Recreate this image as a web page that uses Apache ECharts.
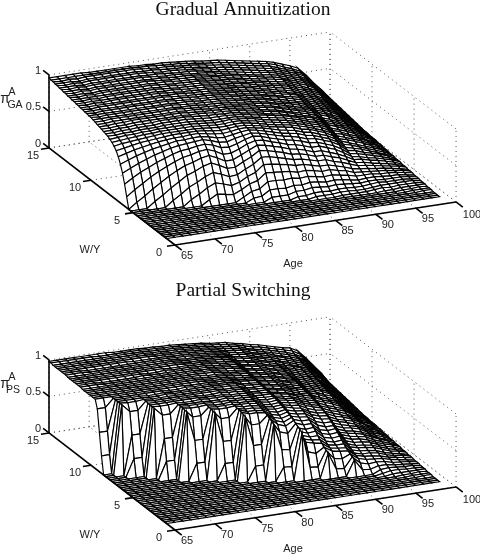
<!DOCTYPE html>
<html>
<head>
<meta charset="utf-8">
<style>html,body{margin:0;padding:0;background:#fff}#chart{width:480px;height:554px}</style>
<script src="https://cdn.jsdelivr.net/npm/echarts@6/dist/echarts.min.js"></script>
</head>
<body>
<div id="chart"></div>
<script>
// grid of the surface
const ages = [65,66,67,68,69,70,71,72,73,74,75,76,77,78,79,80,81,82,83,84,85,86,87,88,89,90,91,92,93,94,95,96,97,98,99];
const wyLevels = [1,1.25,1.5,1.75,2,2.25,2.5,2.75,3,3.25,3.5,3.75,4,4.25,4.5,4.75,5,5.25,5.5,5.75,6,6.25,6.5,6.75,7,7.25,7.5,7.75,8,8.25,8.5,8.75,9,9.25,9.5,9.75,10,10.25,10.5,10.75,11,11.25,11.5,11.75,12,12.25,12.5,12.75,13,13.25,13.5,13.75,14,14.25,14.5,14.75,15];
const ageTicks = [65,70,75,80,85,90,95,100];
const wyTicks = [0,5,10,15];
const zTicks = [0,0.5,1];
const zTickLabels = ["0","0.5","1"];

// percent annuitized per age, listed up to W/Y = 15; rows below a list are 0
const gaColumns = [
[15,30,43,53,61,67,71,74,76,78,79,80,81,82,83,84,85,86,86,87,87,88,88,89,89,90,90,91,91,92,92,93,93,94,94,95,95,96],
[8,23,37,48,57,64,69,73,75,77,78,79,80,81,82,83,84,85,85,86,86,87,87,88,88,89,89,90,90,91,91,92,92,93,93,94,94,95,96],
[15,30,43,53,61,67,71,74,76,78,79,80,81,82,83,84,85,85,86,86,87,87,88,88,89,89,90,90,91,91,92,92,93,93,94,94,95,95,96],
[8,23,37,48,57,64,69,73,75,77,78,79,80,81,82,83,84,85,85,86,86,87,87,88,88,88,89,89,90,90,90,91,91,92,92,93,93,94,95,96],
[15,30,43,53,61,67,71,74,76,78,79,80,81,82,83,84,84,85,85,86,86,87,87,88,88,89,89,90,90,91,91,92,92,93,93,94,94,95,95,96],
[8,23,37,48,57,64,69,73,75,77,78,79,80,81,82,83,84,84,85,85,86,86,87,87,88,88,89,89,90,90,91,91,92,92,93,93,94,94,95,95,95],
[15,30,43,53,61,67,71,74,76,78,79,80,80,81,82,83,84,84,85,85,86,86,87,87,88,88,89,89,90,90,91,91,92,92,93,93,94,94,95,95,95],
[8,23,37,48,57,64,69,73,75,77,78,79,80,81,82,83,83,84,84,85,85,86,86,87,87,88,88,89,89,90,90,91,91,92,92,93,93,94,94,95,95,95],
[14,28,41,51,59,65,70,73,75,77,78,79,80,81,82,83,83,84,84,85,85,86,86,87,87,88,88,89,89,90,90,91,91,92,92,93,93,94,94,95,95,95],
[7,21,34,46,55,62,67,71,74,76,77,78,79,80,81,82,83,83,84,84,85,85,86,86,87,87,88,88,89,89,90,90,91,91,92,92,93,93,94,94,95,95,95],
[13,26,38,49,57,63,68,72,74,76,77,78,79,80,81,82,83,83,84,84,85,85,86,86,87,87,88,88,89,89,90,90,91,91,92,92,93,93,94,94,95,95,95],
[11,23,34,44,52,59,65,69,72,74,76,77,78,79,80,81,82,82,83,83,84,84,85,85,86,86,87,87,88,88,89,89,90,90,91,91,92,92,93,93,94,94,94],
[9,19,29,38,46,53,60,65,69,72,74,76,77,78,79,80,81,82,82,83,83,84,84,85,85,86,86,87,87,88,88,89,89,90,90,91,91,92,92,93,93,94,94],
[6,14,22,30,38,46,53,59,64,68,71,73,75,76,77,78,79,80,81,81,82,82,83,83,84,84,85,85,86,86,87,87,88,88,89,89,90,90,91,91,92,92,93,93],
[5,12,20,28,36,44,51,57,62,67,70,72,74,75,76,77,78,79,80,80,81,81,82,82,83,83,84,84,85,85,86,86,87,87,88,88,89,89,90,90,91,91,92,92,93],
[6,14,23,32,41,49,56,62,66,69,72,74,75,76,77,78,78,79,79,80,80,81,81,82,82,83,83,84,84,85,85,86,86,87,87,88,88,89,89,89,90,90,91,91,92],
[5,13,22,32,41,49,56,61,65,69,71,73,74,75,76,77,77,78,78,79,79,80,80,81,81,82,82,83,83,84,84,85,85,86,86,87,87,88,88,88,89,89,90,90,91,91],
[5,13,22,31,40,48,54,59,64,67,69,71,72,73,74,75,76,76,77,77,78,78,79,79,80,80,81,81,82,82,83,83,84,84,85,85,86,86,87,87,88,88,88,89,89,90],
[5,12,21,30,38,45,51,56,60,63,66,68,70,71,72,73,74,74,75,75,76,76,77,77,78,79,79,80,80,81,81,82,82,83,83,84,84,85,85,86,86,87,87,88,88,89],
[3,8,14,22,29,36,42,48,53,57,60,63,65,67,68,69,70,71,72,73,74,74,75,75,76,76,77,77,78,78,79,79,80,80,81,81,82,82,83,83,84,84,85,85,86,86,87],
[3,8,13,20,26,33,39,44,49,53,57,60,62,64,66,67,68,69,70,71,71,72,72,73,73,74,74,75,75,76,76,77,77,78,78,79,79,80,80,81,81,82,82,83,84,85,86],
[2,5,10,15,21,27,33,38,43,47,51,55,58,60,62,64,65,66,67,68,69,69,70,70,71,71,72,72,73,73,74,74,75,75,76,76,77,77,78,78,79,79,80,81,82,83,84,85],
[2,5,9,14,19,25,30,35,40,44,48,52,55,58,60,62,63,64,65,66,67,67,68,68,69,69,70,70,71,71,72,72,73,73,74,74,75,75,76,76,77,77,78,79,80,81,82,83],
[2,4,8,12,17,22,27,32,36,40,44,48,51,54,56,58,60,61,62,63,64,64,65,65,66,66,67,67,68,68,69,69,70,71,71,72,72,73,73,74,75,75,76,77,78,79,80,81],
[1,3,5,9,13,18,23,27,32,36,40,44,47,50,52,54,56,57,58,59,60,61,61,62,62,63,64,64,65,65,66,67,67,68,68,69,70,70,71,71,72,73,73,74,75,76,77,78,79],
[1,3,5,8,12,16,20,24,28,32,36,40,43,46,48,50,52,53,54,55,56,57,58,58,59,60,60,61,62,62,63,64,64,65,66,66,67,68,68,69,70,70,71,72,73,74,75,76,77],
[1,2,4,7,10,14,18,21,25,29,32,36,39,42,44,46,48,49,51,52,53,54,55,55,56,57,58,58,59,60,60,61,62,63,63,64,65,66,66,67,68,69,70,71,71,72,73,74,75],
[1,2,4,6,8,11,14,17,21,24,27,30,33,36,38,40,42,44,45,47,48,49,50,51,52,53,54,55,55,56,57,58,59,60,60,61,62,63,64,65,66,66,67,68,69,70,71,72,73],
[2,3,5,7,9,11,13,15,17,19,21,23,25,27,29,31,33,34,36,37,39,40,42,43,44,45,47,48,49,50,51,52,53,54,55,56,57,58,59,60,61,62,63,64,65,66,67,69,70],
[1,3,4,6,7,9,11,12,14,16,18,20,21,23,25,26,28,29,31,32,34,35,36,38,39,40,41,43,44,45,46,47,48,49,50,51,52,53,54,55,56,57,58,59,60,61,62,63,64,66],
[1,2,4,5,6,8,9,11,12,14,15,17,18,20,21,23,24,25,27,28,29,30,32,33,34,35,36,37,38,39,41,42,43,44,45,46,47,48,49,50,51,53,54,55,56,57,58,59,60,62],
[1,2,3,4,5,6,7,9,10,11,12,13,15,16,17,18,19,20,21,23,24,25,26,27,28,29,30,31,32,33,34,35,36,37,38,39,40,41,42,44,45,46,47,48,49,50,51,53,54,55,57],
[1,1,2,3,4,5,6,7,8,8,9,10,11,12,13,14,15,15,16,17,18,19,20,20,21,22,23,24,25,25,26,27,28,29,30,31,31,32,33,34,35,36,37,38,39,40,41,42,43,44,45,46],
[1,1,2,2,3,4,4,5,5,6,7,7,8,8,9,10,10,11,11,12,13,13,14,14,15,16,16,17,17,18,19,19,20,20,21,21,22,23,23,24,24,25,26,26,27,28,28,29,30,30,31,32,33],
[0,1,1,1,2,2,2,3,3,3,4,4,4,5,5,5,6,6,6,7,7,7,8,8,8,9,9,9,10,10,10,11,11,11,12,12,13,13,14,14,15,15,16,16,17,17,18,18,19,19,20,20,21,22]
];
const psColumns = [
[24,54,84,95,95,95,95,95,95,95,96,96,96,96,96,96,96,97,97,97,97,97,97,97,98,98],
[24,54,84,95,95,95,95,95,95,95,96,96,96,96,96,96,96,97,97,97,97,97,97,97,98,98],
[95,95,95,95,95,95,95,95,95,95,95,95,96,96,96,96,96,96,96,97,97,97,97,97,97,97,98,98],
[24,54,84,94,95,95,95,95,95,95,95,95,95,95,95,95,96,96,96,96,96,96,96,97,97,97,97,97,98,98],
[24,54,84,94,95,95,95,95,95,95,95,95,95,95,95,95,96,96,96,96,96,96,96,97,97,97,97,97,98,98],
[94,94,94,94,95,95,95,95,95,95,95,95,95,95,95,95,95,95,96,96,96,96,96,96,96,97,97,97,97,97,98,98],
[24,53,83,93,94,94,94,94,94,94,95,95,95,95,95,95,95,95,95,95,96,96,96,96,96,96,96,97,97,97,97,97,97,98],
[24,53,83,93,94,94,94,94,94,94,95,95,95,95,95,95,95,95,95,95,96,96,96,96,96,96,96,97,97,97,97,97,97,98],
[93,93,94,94,94,94,94,94,94,94,95,95,95,95,95,95,95,95,95,95,95,96,96,96,96,96,96,96,96,97,97,97,97,97,97,97],
[23,52,82,92,93,93,93,94,94,94,94,94,94,94,95,95,95,95,95,95,95,95,95,95,96,96,96,96,96,96,96,97,97,97,97,97,97],
[23,52,82,92,93,93,93,94,94,94,94,94,94,94,95,95,95,95,95,95,95,95,95,95,96,96,96,96,96,96,96,97,97,97,97,97,97],
[91,91,92,92,93,93,93,94,94,94,94,94,94,94,95,95,95,95,95,95,95,95,95,95,96,96,96,96,96,96,96,96,97,97,97,97,97,97],
[22,50,79,90,91,91,92,92,93,93,93,94,94,94,94,94,94,95,95,95,95,95,95,95,95,95,95,96,96,96,96,96,96,96,96,96,96,96,96],
[22,50,79,90,91,91,92,92,93,93,93,94,94,94,94,94,94,95,95,95,95,95,95,95,95,95,95,96,96,96,96,96,96,96,96,96,96,96,96],
[87,88,89,90,90,91,91,92,92,93,93,93,94,94,94,94,94,94,94,94,94,94,95,95,95,95,95,95,95,95,95,95,95,95,95,95,95,95,95,95,95],
[20,46,72,85,86,87,88,89,89,90,90,91,91,92,92,92,93,93,93,93,93,93,93,93,94,94,94,94,94,94,94,94,94,94,95,95,95,95,95,95,95,95],
[20,46,72,85,86,87,88,89,89,90,90,91,91,92,92,92,93,93,93,93,93,93,93,93,94,94,94,94,94,94,94,94,94,94,94,94,94,94,94,94,94,94],
[76,78,80,82,83,84,85,86,87,88,88,89,89,90,90,91,91,91,92,92,92,92,92,92,92,92,92,92,92,92,93,93,93,93,93,93,93,93,93,93,93,93,93],
[18,40,62,70,73,75,77,79,80,81,82,83,84,85,85,86,86,87,87,88,88,89,89,89,90,90,90,90,91,91,91,91,91,92,92,92,92,92,92,92,92,92,92,92],
[17,38,58,66,69,72,74,76,78,79,80,81,82,83,84,85,85,86,86,87,87,88,88,88,89,89,89,89,90,90,90,90,90,91,91,91,91,91,91,91,91,91,91,91],
[64,66,68,70,72,74,75,77,78,79,80,81,82,83,83,84,84,85,85,86,86,86,87,87,87,87,88,88,88,88,88,89,89,89,89,89,89,89,89,89,89,89,89,89,89],
[15,34,45,47,50,53,56,60,63,65,67,69,71,72,73,74,75,75,76,76,77,77,78,78,79,79,80,80,81,81,82,82,83,83,84,84,85,85,85,86,86,87,87,88,88],
[14,30,42,44,46,49,52,56,59,62,64,66,68,69,71,72,72,73,74,74,75,75,76,76,77,77,78,78,79,79,80,80,81,81,82,82,83,83,84,84,85,85,86,86,87],
[33,35,37,40,43,46,50,53,56,59,61,63,65,66,68,69,70,71,71,72,72,73,73,74,74,75,75,76,76,77,77,78,78,79,79,80,80,81,81,82,82,83,83,84,84,84],
[10,22,30,32,34,37,40,43,46,50,53,56,58,60,62,64,65,66,67,68,68,69,70,70,71,71,72,72,73,73,74,74,75,75,76,76,77,77,78,78,79,79,80,80,81,82],
[9,20,28,30,32,34,37,40,43,46,49,52,54,56,58,60,61,62,63,64,65,65,66,67,67,68,69,69,70,70,71,71,72,72,73,73,74,74,75,75,76,76,77,77,78,79],
[21,23,25,27,29,32,35,38,41,44,46,49,51,53,55,56,57,58,59,60,61,62,63,63,64,65,65,66,67,67,68,68,69,69,70,70,71,71,72,72,73,73,74,74,75,76,77],
[6,13,17,19,20,22,24,26,28,30,32,33,35,37,39,41,43,45,46,48,49,51,52,54,55,56,57,58,59,60,61,62,63,64,65,66,66,67,68,68,69,70,70,71,72,73,74],
[5,10,14,16,17,19,21,22,24,26,28,30,31,33,35,37,38,40,42,43,45,46,48,49,50,52,53,54,55,56,57,58,59,60,61,62,63,64,64,65,66,67,67,68,69,70,71],
[2,5,8,11,13,15,17,18,20,21,23,25,26,28,29,31,32,34,35,37,38,40,41,42,44,45,46,47,48,50,51,52,53,54,55,56,57,58,59,60,60,61,62,63,64,65,66,67,68],
[2,4,6,8,10,12,13,15,16,18,19,21,22,24,25,26,28,29,30,32,33,34,35,37,38,39,40,41,42,44,45,46,47,48,49,50,51,52,53,54,55,56,57,58,59,60,61,62,64,66],
[1,2,4,5,6,7,9,10,11,12,14,15,16,17,18,20,21,22,23,24,25,27,28,29,30,31,32,33,34,35,36,37,38,39,40,41,42,43,44,46,47,48,49,50,51,52,53,54,56,58,60],
[1,1,2,3,4,5,6,7,8,8,9,10,11,12,13,14,15,15,16,17,18,19,20,20,21,22,23,24,25,25,26,27,28,29,30,31,31,32,33,34,35,36,37,38,39,40,41,42,43,45,47,49],
[1,1,2,2,3,4,4,5,5,6,7,7,8,8,9,10,10,11,11,12,13,13,14,14,15,16,16,17,17,18,19,19,20,20,21,21,22,23,23,24,24,25,26,26,27,28,28,29,30,31,32,34,36],
[0,1,1,1,2,2,2,3,3,3,4,4,4,5,5,5,6,6,6,7,7,7,8,8,8,9,9,9,10,10,10,11,11,11,12,12,13,13,14,14,15,15,16,16,17,17,18,18,19,19,20,21,22,24]
];

// oblique view of the box, in pixels of one panel
function project(age, wy, z) {
    return [
        175 + (age - 65) * 8.03 - wy * 8.4,
        245 - (age - 65) * 1.23 - wy * 6.47 - z * 73
    ];
}

function heightAt(columns, a, w) {
    const col = columns[a];
    const k = w - (wyLevels.length - col.length);
    return k < 0 ? 0 : col[k] / 100;
}

// cells from the far corner to the near one, so nearer cells paint over
function surfaceCells() {
    const cells = [];
    for (let w = wyLevels.length - 2; w >= 0; w--) {
        for (let a = ages.length - 2; a >= 0; a--) {
            cells.push([a, w]);
        }
    }
    return cells;
}

function surfaceSeries(columns, gridIndex) {
    return {
        type: "custom",
        xAxisIndex: gridIndex,
        yAxisIndex: gridIndex,
        coordinateSystem: "cartesian2d",
        silent: true,
        animation: false,
        progressive: 0,
        clip: false,
        z: 3,
        data: surfaceCells(),
        renderItem: function (params, api) {
            const a = api.value(0), w = api.value(1);
            const corners = [[a, w], [a + 1, w], [a + 1, w + 1], [a, w + 1]];
            return {
                type: "polygon",
                shape: {
                    points: corners.map(c => api.coord(project(ages[c[0]], wyLevels[c[1]], heightAt(columns, c[0], c[1]))))
                },
                style: { fill: "#fff", stroke: "#000", lineWidth: 1.15 }
            };
        }
    };
}

// line segments in box coordinates: dotted grid, solid axes and ticks
function gridSegments() {
    const s = [];
    zTicks.forEach(z => {
        s.push([[65, 15, z], [100, 15, z]]);
        s.push([[100, 0, z], [100, 15, z]]);
    });
    ageTicks.forEach(age => {
        s.push([[age, 15, 0], [age, 15, 1]]);
        s.push([[age, 0, 0], [age, 15, 0]]);
    });
    wyTicks.forEach(wy => {
        s.push([[100, wy, 0], [100, wy, 1]]);
        s.push([[65, wy, 0], [100, wy, 0]]);
    });
    return s;
}

function axisSegments() {
    const s = [
        [[65, 15, 0], [65, 15, 1]],
        [[65, 0, 0], [65, 15, 0]],
        [[65, 0, 0], [100, 0, 0]]
    ];
    zTicks.forEach(z => s.push([[65, 15, z], [65, 15.7, z]]));
    wyTicks.forEach(wy => s.push([[65, wy, 0], [64, wy, 0]]));
    ageTicks.forEach(age => s.push([[age, 0, 0], [age, -0.8, 0]]));
    return s;
}

function segmentSeries(segments, style, gridIndex, z) {
    return {
        type: "custom",
        xAxisIndex: gridIndex,
        yAxisIndex: gridIndex,
        coordinateSystem: "cartesian2d",
        silent: true,
        animation: false,
        clip: false,
        z: z,
        data: segments.map((seg, i) => [i, 0]),
        renderItem: function (params, api) {
            const seg = segments[api.value(0)];
            const p = api.coord(project(seg[0][0], seg[0][1], seg[0][2]));
            const q = api.coord(project(seg[1][0], seg[1][1], seg[1][2]));
            return {
                type: "line",
                shape: { x1: p[0], y1: p[1], x2: q[0], y2: q[1] },
                style: style
            };
        }
    };
}

function labelSeries(subscript, subX, gridIndex) {
    const font = '"Liberation Sans", Arial, sans-serif';
    const labels = [];
    zTicks.forEach((z, i) => {
        const p = project(65, 15, z);
        labels.push({ text: zTickLabels[i], x: p[0] - 8, y: p[1] - 4, size: 11, align: "right" });
    });
    wyTicks.forEach(wy => {
        const p = project(65, wy, 0);
        labels.push({ text: String(wy), x: p[0] - 16, y: p[1] + 8, size: 11, align: "center" });
    });
    ageTicks.forEach(age => {
        const p = project(age, 0, 0);
        labels.push({ text: String(age), x: p[0] + (age === 100 ? 16 : 12), y: p[1] + (age === 100 ? 13 : 11), size: 11, align: "center" });
    });
    labels.push({ text: "W/Y", x: 90, y: 250, size: 11, align: "center" });
    labels.push({ text: "Age", x: 293, y: 264, size: 11, align: "center" });
    labels.push({ text: "π", x: 5, y: 99, size: 14, align: "center" });
    labels.push({ text: "A", x: 12, y: 92, size: 10.5, align: "center" });
    labels.push({ text: subscript, x: subX, y: 105, size: 10.5, align: "center" });
    return {
        type: "custom",
        xAxisIndex: gridIndex,
        yAxisIndex: gridIndex,
        coordinateSystem: "cartesian2d",
        silent: true,
        animation: false,
        clip: false,
        z: 5,
        data: labels.map((l, i) => [i, 0]),
        renderItem: function (params, api) {
            const l = labels[api.value(0)];
            const p = api.coord([l.x, l.y]);
            return {
                type: "text",
                x: p[0],
                y: p[1],
                style: { text: l.text, font: l.size + "px " + font, fill: "#222", align: l.align, verticalAlign: "middle" }
            };
        }
    };
}

const dotted = { stroke: "#555", lineWidth: 1, lineDash: [1, 4], fill: null };
const solid = { stroke: "#000", lineWidth: 1.6, fill: null };
const panelHeight = 269;

function titleOf(text, top) {
    return {
        text: text,
        left: 238,
        top: top,
        textAlign: "center",
        textStyle: { fontFamily: '"Liberation Serif", serif', fontSize: 19.5, fontWeight: "normal", color: "#111" }
    };
}

const chart = echarts.init(document.getElementById("chart"), null, { renderer: "canvas" });
chart.setOption({
    animation: false,
    backgroundColor: "#fff",
    title: [titleOf("Gradual Annuitization", -5), titleOf("Partial Switching", 276)],
    grid: [
        { left: 0, top: 0, width: 480, height: panelHeight },
        { left: 0, top: 285, width: 480, height: panelHeight }
    ],
    xAxis: [0, 1].map(i => ({ type: "value", gridIndex: i, min: 0, max: 480, show: false })),
    yAxis: [0, 1].map(i => ({ type: "value", gridIndex: i, min: 0, max: panelHeight, inverse: true, show: false })),
    series: [
        segmentSeries(gridSegments(), dotted, 0, 1),
        surfaceSeries(gaColumns, 0),
        segmentSeries(axisSegments(), solid, 0, 4),
        labelSeries("GA", 15, 0),
        segmentSeries(gridSegments(), dotted, 1, 1),
        surfaceSeries(psColumns, 1),
        segmentSeries(axisSegments(), solid, 1, 4),
        labelSeries("PS", 13, 1)
    ]
});
</script>
</body>
</html>
